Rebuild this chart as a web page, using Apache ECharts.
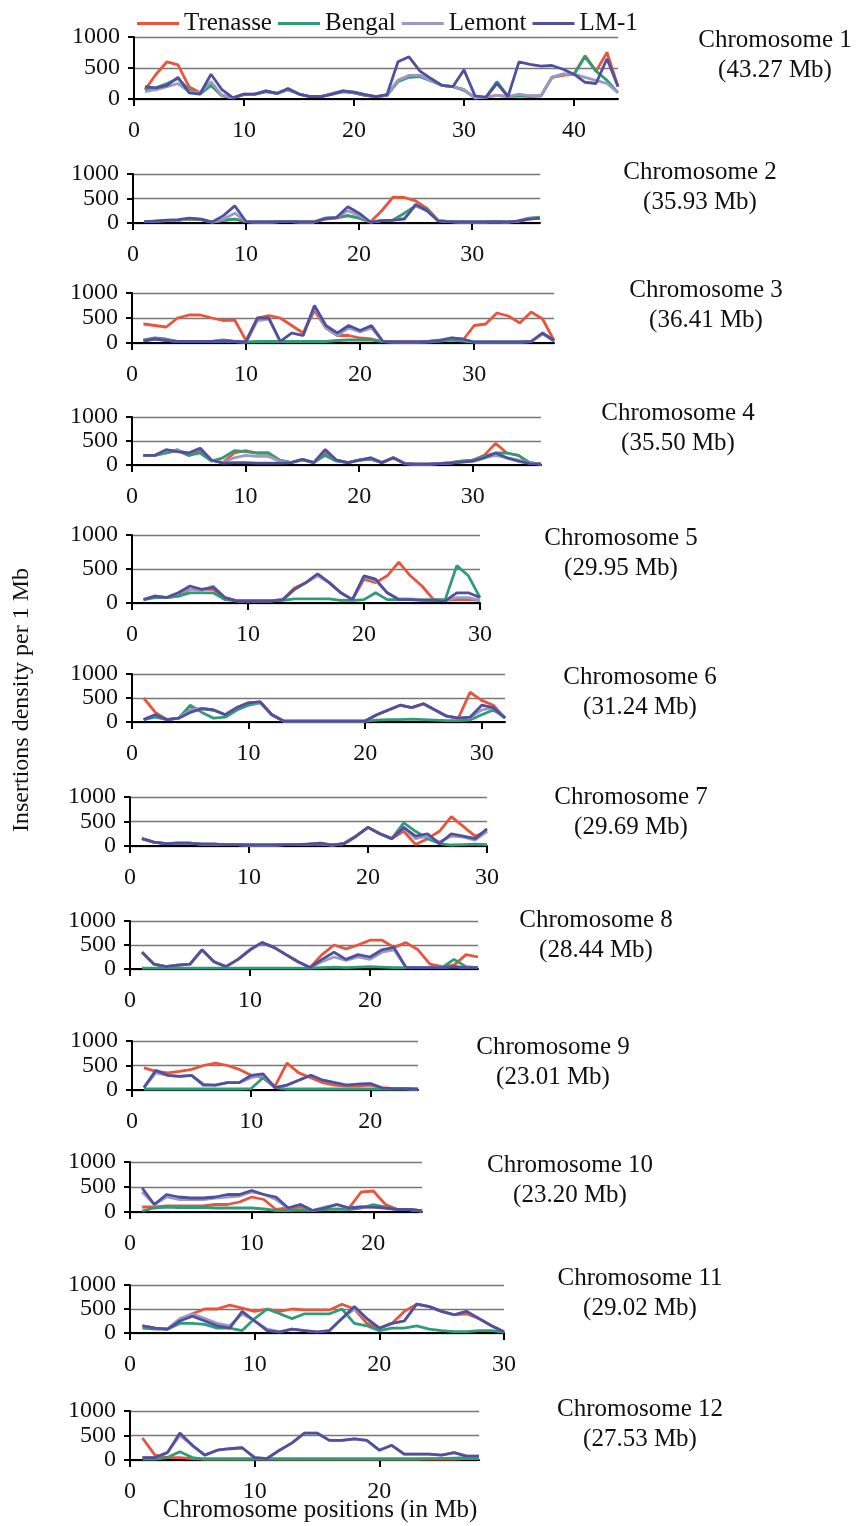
<!DOCTYPE html>
<html><head><meta charset="utf-8">
<script src="https://cdn.jsdelivr.net/npm/echarts@6/dist/echarts.min.js"></script>
<style>html,body{margin:0;padding:0;background:#fff}#c{width:861px;height:1526px}</style>
</head><body><div id="c"></div>
<script>
const seriesNames = ['Trenasse','Bengal','Lemont','LM-1'];
const chrNames = ['Chromosome 1','Chromosome 2','Chromosome 3','Chromosome 4','Chromosome 5','Chromosome 6','Chromosome 7','Chromosome 8','Chromosome 9','Chromosome 10','Chromosome 11','Chromosome 12'];
const chrSizes = ['(43.27 Mb)','(35.93 Mb)','(36.41 Mb)','(35.50 Mb)','(29.95 Mb)','(31.24 Mb)','(29.69 Mb)','(28.44 Mb)','(23.01 Mb)','(23.20 Mb)','(29.02 Mb)','(27.53 Mb)'];
const yTicks = [0, 500, 1000];
const xTicks = [0, 10, 20, 30, 40];

const chr1_trenasse = [150,400,600,550,200,100,220,60,20,70,80,120,90,150,80,40,40,80,120,100,60,40,60,300,380,380,300,220,200,150,20,30,60,40,60,50,50,350,380,400,700,450,750,200];
const chr1_bengal   = [150,180,250,330,150,80,220,50,20,70,80,120,90,150,80,40,40,80,120,100,60,40,60,280,350,360,290,220,200,140,20,30,280,40,50,40,50,350,400,400,680,450,300,100];
const chr1_lemont   = [120,150,200,250,120,100,280,60,20,80,80,130,90,160,80,40,40,90,130,110,70,40,70,300,380,380,300,220,200,150,20,30,60,40,80,50,60,350,400,400,350,300,250,100];
const chr1_lm1      = [200,180,220,350,100,80,400,150,20,80,80,130,90,170,80,40,40,80,130,110,70,40,70,600,680,450,330,220,200,470,50,30,250,40,600,560,530,540,480,400,270,250,650,200];

const chr2_trenasse = [30,40,50,60,80,70,20,50,80,30,20,20,30,30,20,20,80,100,150,100,20,250,530,520,450,300,50,30,20,20,20,30,20,30,80,100];
const chr2_bengal   = [30,40,50,60,80,70,20,60,80,30,20,20,30,30,20,20,100,120,150,100,20,50,60,200,350,280,50,30,20,20,20,30,20,40,100,120];
const chr2_lemont   = [30,40,50,60,90,80,20,80,200,30,20,20,30,30,20,20,100,120,250,150,20,50,60,100,350,250,50,30,20,20,20,30,20,40,90,110];
const chr2_lm1      = [30,40,60,70,100,80,20,150,350,30,20,20,30,30,20,20,90,110,330,200,20,50,60,80,380,250,40,30,20,20,20,30,20,40,80,100];

const chr3_trenasse = [380,350,320,500,560,560,500,450,460,50,500,550,500,350,200,650,300,150,150,100,80,30,30,30,30,30,50,80,50,350,380,600,540,400,620,480,50];
const chr3_bengal   = [60,100,80,30,30,30,30,60,30,20,30,30,30,30,30,30,30,50,60,60,60,30,20,20,20,20,40,60,40,20,20,20,20,20,30,200,30];
const chr3_lemont   = [50,80,60,30,30,30,30,40,30,20,450,480,30,200,150,720,300,150,300,220,300,30,20,20,20,30,60,100,70,20,20,20,20,20,30,180,40];
const chr3_lm1      = [40,80,50,30,30,30,30,40,30,20,500,500,30,200,150,750,350,200,350,250,350,30,20,20,20,30,50,100,80,20,20,20,20,20,30,200,50];

const chr4_trenasse = [200,200,250,300,200,300,100,50,250,300,250,250,100,50,120,50,250,100,50,100,120,50,150,30,20,20,30,50,80,100,200,450,250,200,50,20];
const chr4_bengal   = [200,200,250,320,200,250,80,150,300,280,250,250,100,50,100,50,200,80,50,100,120,50,150,30,20,20,30,50,80,100,180,250,250,200,50,20];
const chr4_lemont   = [200,200,300,300,250,350,100,50,150,200,180,180,80,50,120,50,320,100,50,100,150,50,150,30,20,20,30,40,60,80,150,200,150,100,40,20];
const chr4_lm1      = [200,200,320,280,250,350,100,40,50,50,40,40,40,50,120,50,320,100,50,100,150,50,150,30,20,20,30,40,60,80,150,250,150,80,30,20];

const chr5_trenasse = [50,100,80,100,200,200,200,80,30,30,30,30,50,220,300,420,300,150,50,350,300,400,600,400,250,50,40,50,50,40];
const chr5_bengal   = [50,80,80,100,150,150,150,50,30,30,30,30,40,60,60,60,60,40,40,50,150,50,50,50,50,50,50,550,400,80];
const chr5_lemont   = [50,100,80,150,200,180,250,80,30,30,30,30,50,200,300,400,300,150,50,380,330,150,60,60,50,40,40,80,80,40];
const chr5_lm1      = [50,100,80,150,250,200,230,80,30,30,30,30,50,200,300,430,300,150,50,400,350,150,50,50,40,40,30,150,150,80];

const chr6_trenasse = [500,200,50,80,250,280,250,150,300,400,420,150,20,20,20,20,20,20,20,20,150,250,350,300,380,250,120,80,620,450,350,80];
const chr6_bengal   = [50,100,50,80,350,200,80,100,250,350,400,150,20,20,20,20,20,20,20,20,40,50,50,60,50,40,30,30,40,150,250,100];
const chr6_lemont   = [50,150,50,80,250,280,250,150,300,400,400,150,20,20,20,20,20,20,20,20,150,250,350,300,380,250,120,80,100,250,300,80];
const chr6_lm1      = [50,150,50,80,200,280,250,150,300,400,420,150,20,20,20,20,20,20,20,20,150,250,350,300,380,250,120,80,100,350,300,80];

const chr7_trenasse = [150,80,50,60,60,40,40,30,30,20,20,20,30,30,40,40,20,50,200,380,250,150,300,30,150,300,600,400,200,300];
const chr7_bengal   = [150,80,50,60,60,40,40,30,30,20,20,20,30,30,40,40,20,50,200,380,250,150,470,300,150,50,20,30,40,30];
const chr7_lemont   = [150,80,50,60,60,40,40,30,30,20,20,20,30,30,40,60,20,50,200,380,250,150,380,150,200,80,200,180,120,300];
const chr7_lm1      = [150,80,50,60,60,40,40,30,30,20,20,20,30,30,40,60,20,50,200,380,250,150,380,200,250,50,250,200,150,350];

const chr8_trenasse = [350,100,50,80,100,400,150,50,200,400,550,450,300,150,30,300,500,420,500,600,600,450,550,400,100,50,80,300,250];
const chr8_bengal   = [20,20,20,20,20,20,20,20,20,20,20,20,20,20,20,30,40,30,40,50,40,30,30,30,30,30,200,50,30];
const chr8_lemont   = [350,100,50,80,100,400,150,50,200,400,550,450,300,150,30,150,250,180,250,200,350,400,30,30,30,30,50,30,30];
const chr8_lm1      = [350,100,50,80,100,400,150,50,200,400,550,450,300,150,30,200,350,200,300,250,400,450,30,30,30,30,50,30,30];

const chr9_trenasse = [450,380,350,380,420,500,550,500,420,300,250,80,550,350,250,150,100,80,80,100,50,30,30,20];
const chr9_bengal   = [20,20,20,20,20,20,20,20,20,30,250,50,20,20,20,20,20,20,20,20,20,20,20,20];
const chr9_lemont   = [50,350,300,280,300,120,100,150,150,250,300,50,100,200,300,200,150,100,120,130,40,30,30,10];
const chr9_lm1      = [50,400,300,280,300,100,100,150,150,300,330,50,100,200,300,200,150,100,120,130,40,30,30,10];

const chr10_trenasse = [100,100,120,120,120,120,150,150,200,300,250,50,80,100,30,80,150,80,400,420,150,50,50,20];
const chr10_bengal   = [20,80,100,90,90,90,80,80,80,80,60,30,30,40,30,50,60,50,80,150,100,50,50,20];
const chr10_lemont   = [400,150,300,250,250,250,280,300,320,400,350,250,80,150,30,100,150,80,100,100,80,50,50,20];
const chr10_lm1      = [480,150,350,300,280,280,300,350,350,430,350,300,80,150,30,80,150,80,100,100,80,50,50,20];

const chr11_trenasse = [150,100,80,250,400,500,500,580,520,450,500,450,500,480,480,480,600,500,200,100,200,450,600,550,450,380,400,300,150,30];
const chr11_bengal   = [100,80,80,200,200,180,100,100,50,300,500,400,300,400,400,400,500,200,150,50,100,100,150,80,50,30,30,50,50,20];
const chr11_lemont   = [150,100,80,300,400,300,200,150,400,250,80,30,80,50,30,50,300,500,300,100,200,250,600,550,450,380,450,300,150,20];
const chr11_lm1      = [150,100,80,250,350,250,150,100,450,250,50,20,80,50,20,50,300,550,300,100,200,250,600,550,450,380,450,300,150,20];

const chr12_trenasse = [450,100,50,50,30,20,20,20,20,20,20,20,20,20,20,20,20,20,20,20,20,20,20,20,20,20,30,30];
const chr12_bengal   = [20,20,50,170,50,20,20,20,20,20,20,20,20,20,20,20,20,20,20,20,20,20,20,30,30,40,50,40];
const chr12_lemont   = [50,50,150,500,300,100,200,230,250,50,30,200,350,550,550,400,400,430,400,200,300,120,120,120,100,150,80,80];
const chr12_lm1      = [50,50,150,550,300,100,200,230,250,50,30,200,350,550,550,400,400,430,400,200,300,120,120,120,100,150,80,80];

const chrData = [
  [chr1_trenasse, chr1_bengal, chr1_lemont, chr1_lm1],
  [chr2_trenasse, chr2_bengal, chr2_lemont, chr2_lm1],
  [chr3_trenasse, chr3_bengal, chr3_lemont, chr3_lm1],
  [chr4_trenasse, chr4_bengal, chr4_lemont, chr4_lm1],
  [chr5_trenasse, chr5_bengal, chr5_lemont, chr5_lm1],
  [chr6_trenasse, chr6_bengal, chr6_lemont, chr6_lm1],
  [chr7_trenasse, chr7_bengal, chr7_lemont, chr7_lm1],
  [chr8_trenasse, chr8_bengal, chr8_lemont, chr8_lm1],
  [chr9_trenasse, chr9_bengal, chr9_lemont, chr9_lm1],
  [chr10_trenasse, chr10_bengal, chr10_lemont, chr10_lm1],
  [chr11_trenasse, chr11_bengal, chr11_lemont, chr11_lm1],
  [chr12_trenasse, chr12_bengal, chr12_lemont, chr12_lm1]
];

// layout (left, top, width, height) of each panel plot area
const panelBoxes = [
  [134, 37, 484, 62], [133, 174, 407, 49], [132, 293, 422, 50], [132, 417, 409, 48],
  [132, 535, 348, 68], [132, 674, 373, 48], [130, 797, 357, 49], [130, 921, 348, 48],
  [132, 1041, 286, 49], [130, 1162, 292, 50], [130, 1285, 374, 48], [130, 1411, 349, 49]
];
const labelPos = [
  [775, 55], [700, 187], [706, 305], [678, 428], [621, 553], [640, 692],
  [631, 812], [596, 935], [553, 1062], [570, 1180], [640, 1293], [640, 1424]
];
const colors = ['#E8553C', '#2E9C78', '#9A9AC4', '#50509C'];
const FONT = 'Liberation Serif';

const grids = [], xAxes = [], yAxes = [], series = [], graphics = [];
chrData.forEach((sets, i) => {
  const [l, t, w, h] = panelBoxes[i];
  const n = sets[0].length;
  grids.push({ left: l, top: t, width: w, height: h });
  const xt = xTicks.filter(v => v <= n);
  xAxes.push({
    type: 'value', gridIndex: i, min: 0, max: n,
    axisLine: { show: true, lineStyle: { color: '#000', width: 2 } },
    axisTick: { show: true, length: 7, customValues: xt, lineStyle: { color: '#000', width: 2 } },
    axisLabel: { customValues: xt, fontFamily: FONT, fontSize: 24, color: '#111', margin: 20 },
    splitLine: { show: false }
  });
  yAxes.push({
    type: 'value', gridIndex: i, min: 0, max: 1000, interval: 500,
    axisLine: { show: true, lineStyle: { color: '#000', width: 2 } },
    axisTick: { show: true, length: 6, lineStyle: { color: '#000', width: 2 } },
    axisLabel: { fontFamily: FONT, fontSize: 24, color: '#111', margin: 14,
      showMinLabel: true, showMaxLabel: true, formatter: v => String(v) },
    splitLine: { show: true, lineStyle: { color: '#777', width: 1.3 } }
  });
  sets.forEach((arr, k) => {
    series.push({
      name: seriesNames[k], type: 'line', xAxisIndex: i, yAxisIndex: i,
      data: arr.map((v, j) => [j + 1, v]),
      symbol: 'none', showSymbol: false,
      lineStyle: { width: 2.8, color: colors[k] }, itemStyle: { color: colors[k] },
      z: 2 + k
    });
  });
  graphics.push({
    type: 'text', x: labelPos[i][0], y: labelPos[i][1],
    style: { text: chrNames[i] + '\n' + chrSizes[i], textAlign: 'center', textVerticalAlign: 'middle',
      fontFamily: FONT, fontSize: 25, lineHeight: 30, fill: '#111' }
  });
});
graphics.push({
  type: 'text', x: 22, y: 700, rotation: Math.PI / 2,
  style: { text: 'Insertions density per 1 Mb', textAlign: 'center', textVerticalAlign: 'middle',
    fontFamily: FONT, fontSize: 24, fill: '#111' }
});
graphics.push({
  type: 'text', x: 320, y: 1510,
  style: { text: 'Chromosome positions (in Mb)', textAlign: 'center', textVerticalAlign: 'middle',
    fontFamily: FONT, fontSize: 25, fill: '#111' }
});

const chart = echarts.init(document.getElementById('c'), null, { renderer: 'canvas' });
chart.setOption({
  animation: false,
  backgroundColor: '#fff',
  legend: {
    data: seriesNames.map(n => ({ name: n, icon: 'rect' })),
    left: 132, top: 6, itemWidth: 42, itemHeight: 3, itemGap: 6,
    textStyle: { fontFamily: FONT, fontSize: 25, color: '#111' }
  },
  grid: grids, xAxis: xAxes, yAxis: yAxes, series: series, graphic: graphics
});
</script></body></html>
